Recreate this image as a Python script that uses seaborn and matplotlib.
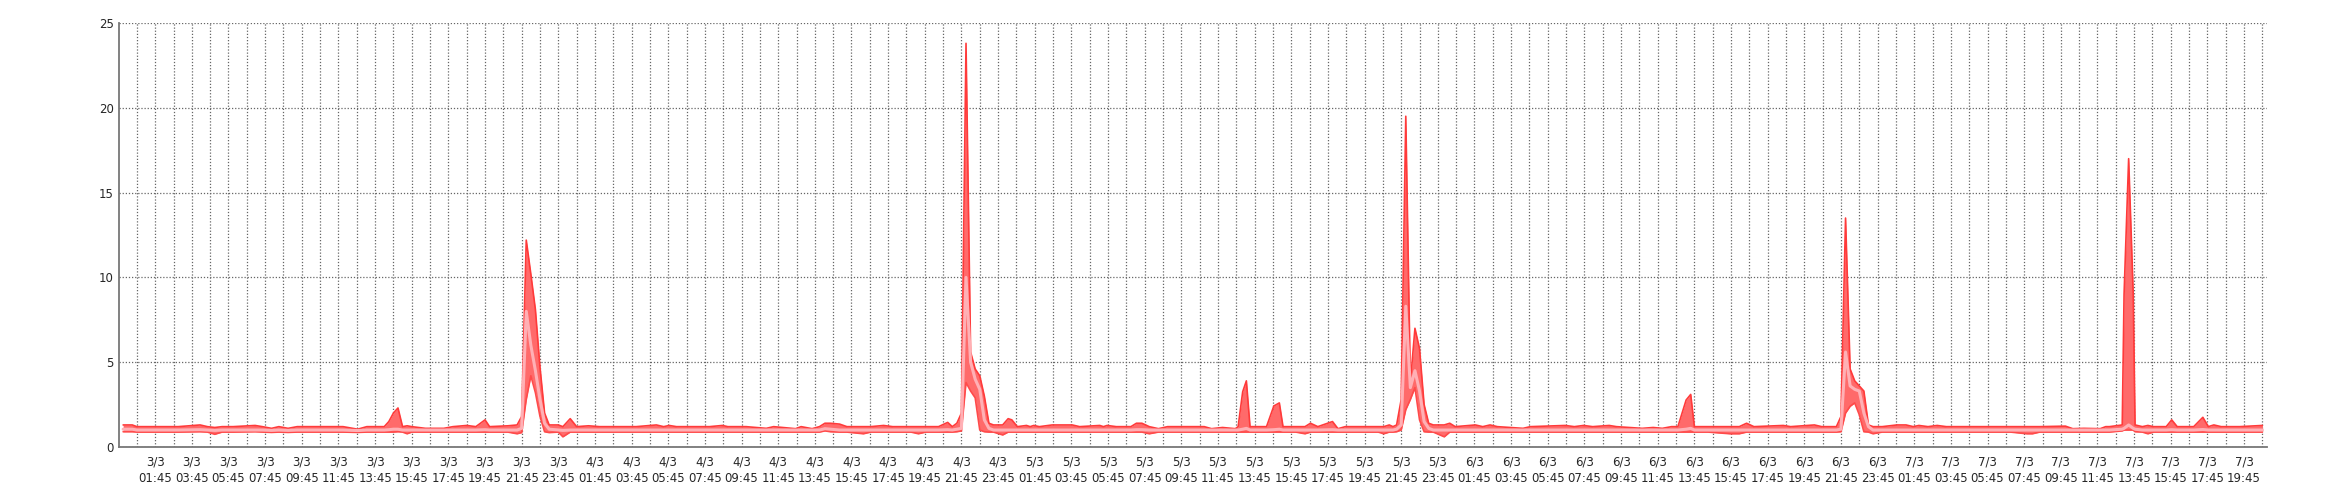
import numpy as np
import pandas as pd
import seaborn as sns
import matplotlib
matplotlib.use("Agg")
import matplotlib.pyplot as plt

# hours since 3/3 00:00, with max / avg / min readings
hours = [
    0.0, 0.5, 0.75, 2.0, 3.0, 4.2, 4.6, 5.0, 5.4, 6.0,
    7.2, 7.6, 8.1, 8.5, 9.0, 9.5, 11.0, 12.0, 12.8, 13.3,
    14.25, 14.5, 14.75, 15.0, 15.25, 15.5, 15.75, 16.5, 17.5, 18.0,
    18.75, 19.25, 19.75, 20.0, 21.0, 21.5, 21.75, 22.0, 22.25, 22.5,
    22.75, 23.0, 23.25, 23.75, 24.0, 24.4, 24.75, 25.4, 26.0, 27.0,
    28.0, 29.1, 29.5, 29.8, 30.2, 31.0, 32.0, 32.7, 33.0, 34.0,
    35.1, 35.5, 36.7, 37.0, 37.6, 38.0, 38.3, 38.6, 39.1, 39.5,
    40.4, 40.8, 41.5, 42.0, 43.0, 43.4, 43.8, 44.5, 45.0, 45.25,
    45.5, 45.75, 46.0, 46.25, 46.5, 46.75, 47.0, 47.25, 47.5, 48.0,
    48.3, 48.5, 48.8, 49.3, 49.5, 49.7, 50.0, 50.7, 51.4, 51.8,
    52.2, 53.3, 53.5, 53.7, 54.2, 55.0, 55.3, 55.6, 56.0, 56.5,
    57.0, 58.0, 59.0, 59.4, 60.0, 60.7, 60.85, 61.1, 61.3, 61.5,
    62.0, 62.4, 62.8, 63.1, 63.3, 64.0, 64.5, 64.8, 65.2, 66.0,
    66.3, 66.7, 67.5, 68.5, 68.8, 69.1, 69.3, 69.5, 69.75, 70.0,
    70.25, 70.5, 70.75, 71.0, 71.25, 71.5, 72.1, 72.4, 72.7, 73.8,
    74.2, 74.6, 75.0, 76.4, 76.8, 78.7, 79.2, 79.7, 80.2, 81.1,
    81.5, 82.9, 83.5, 84.0, 84.5, 84.85, 85.3, 85.55, 85.75, 86.5,
    87.7, 88.2, 88.6, 89.0, 90.6, 91.0, 92.3, 92.7, 93.5, 93.75,
    94.0, 94.25, 94.5, 94.75, 95.0, 95.25, 95.5, 96.0, 96.8, 97.3,
    97.7, 98.0, 98.5, 99.0, 99.5, 100.0, 101.0, 102.0, 103.0, 103.9,
    104.2, 104.6, 106.0, 106.4, 107.0, 107.9, 108.2, 108.4, 109.1, 109.2,
    109.45, 109.7, 109.8, 110.2, 110.5, 110.8, 111.5, 111.8, 112.1, 113.0,
    113.5, 113.8, 114.1, 114.5, 115.5, 116.75,
]

max_vals = [
    1.3, 1.3, 1.2, 1.2, 1.2, 1.3, 1.2, 1.15, 1.2, 1.2,
    1.27, 1.2, 1.1, 1.2, 1.1, 1.2, 1.2, 1.2, 1.05, 1.2,
    1.2, 1.5, 2.0, 2.3, 1.2, 1.25, 1.2, 1.1, 1.1, 1.2,
    1.27, 1.2, 1.6, 1.2, 1.25, 1.3, 1.8, 12.2, 10.2, 8.1,
    4.7, 2.0, 1.3, 1.3, 1.2, 1.67, 1.2, 1.25, 1.2, 1.2,
    1.2, 1.3, 1.2, 1.27, 1.2, 1.2, 1.2, 1.27, 1.2, 1.2,
    1.1, 1.2, 1.08, 1.2, 1.08, 1.2, 1.4, 1.4, 1.35, 1.2,
    1.2, 1.2, 1.27, 1.2, 1.2, 1.2, 1.2, 1.2, 1.45, 1.2,
    1.4, 2.0, 23.8, 5.6, 4.6, 4.2, 3.0, 1.4, 1.3, 1.3,
    1.67, 1.6, 1.2, 1.27, 1.2, 1.27, 1.2, 1.3, 1.3, 1.3,
    1.2, 1.27, 1.2, 1.27, 1.2, 1.2, 1.4, 1.4, 1.2, 1.08,
    1.2, 1.2, 1.2, 1.08, 1.15, 1.08, 1.2, 3.26, 3.9, 1.2,
    1.2, 1.2, 2.42, 2.6, 1.2, 1.2, 1.2, 1.4, 1.2, 1.5,
    1.08, 1.2, 1.2, 1.2, 1.2, 1.3, 1.2, 1.3, 2.8, 19.5,
    3.8, 7.0, 5.8, 2.5, 1.4, 1.3, 1.3, 1.4, 1.2, 1.3,
    1.2, 1.3, 1.2, 1.1, 1.2, 1.27, 1.2, 1.27, 1.2, 1.27,
    1.2, 1.1, 1.15, 1.1, 1.2, 1.2, 2.77, 3.1, 1.2, 1.2,
    1.2, 1.2, 1.4, 1.2, 1.27, 1.2, 1.3, 1.2, 1.2, 1.8,
    13.5, 4.6, 3.9, 3.6, 3.3, 1.3, 1.2, 1.2, 1.3, 1.3,
    1.2, 1.27, 1.2, 1.27, 1.2, 1.2, 1.2, 1.2, 1.2, 1.2,
    1.2, 1.2, 1.23, 1.08, 1.1, 1.08, 1.2, 1.2, 1.3, 9.0,
    17.0, 9.0, 1.3, 1.2, 1.27, 1.2, 1.2, 1.6, 1.2, 1.2,
    1.75, 1.2, 1.3, 1.2, 1.2, 1.27,
]

avg_vals = [
    1.05, 1.05, 1.0, 1.0, 1.0, 1.02, 1.0, 0.98, 1.0, 1.0,
    1.0, 1.0, 0.98, 1.0, 0.98, 1.0, 1.0, 1.0, 0.97, 1.0,
    1.0, 1.02, 1.05, 1.05, 1.0, 1.0, 1.0, 1.0, 1.0, 1.0,
    1.0, 1.0, 1.02, 1.0, 1.0, 1.0, 1.1, 8.0, 6.0, 4.5,
    2.8, 1.4, 1.05, 1.0, 0.98, 1.0, 1.0, 1.0, 1.0, 1.0,
    1.0, 1.0, 1.0, 1.0, 1.0, 1.0, 1.0, 1.0, 1.0, 1.0,
    1.0, 1.0, 1.0, 1.0, 1.0, 1.0, 1.08, 1.05, 1.0, 1.0,
    1.0, 1.0, 1.0, 1.0, 1.0, 1.0, 1.0, 1.0, 1.02, 1.0,
    1.05, 1.1, 10.0, 5.0, 4.0, 3.4, 1.6, 1.1, 1.0, 1.0,
    1.0, 1.0, 1.0, 1.0, 1.0, 1.0, 1.0, 1.0, 1.0, 1.0,
    1.0, 1.0, 1.0, 1.0, 1.0, 1.0, 1.02, 1.02, 1.0, 1.0,
    1.0, 1.0, 1.0, 1.0, 1.0, 1.0, 1.0, 1.05, 1.1, 1.0,
    1.0, 1.0, 1.02, 1.05, 1.0, 1.0, 1.0, 1.0, 1.0, 1.02,
    1.0, 1.0, 1.0, 1.0, 1.0, 1.0, 1.0, 1.05, 1.3, 8.3,
    3.5, 4.5, 3.3, 1.5, 1.1, 1.0, 1.0, 1.0, 1.0, 1.0,
    1.0, 1.0, 1.0, 1.0, 1.0, 1.0, 1.0, 1.0, 1.0, 1.0,
    1.0, 1.0, 1.0, 1.0, 1.0, 1.0, 1.05, 1.1, 1.0, 1.0,
    1.0, 1.0, 1.0, 1.0, 1.0, 1.0, 1.0, 1.0, 1.0, 1.05,
    5.6, 3.6, 3.4, 3.3, 2.0, 1.2, 1.0, 1.0, 1.0, 1.0,
    1.0, 1.0, 1.0, 1.0, 1.0, 1.0, 1.0, 1.0, 1.0, 1.0,
    1.0, 1.0, 1.0, 1.0, 1.0, 1.0, 1.0, 1.0, 1.05, 1.1,
    1.3, 1.1, 1.05, 1.0, 1.0, 1.0, 1.0, 1.02, 1.0, 1.0,
    1.03, 1.0, 1.0, 1.0, 1.0, 1.0,
]

min_vals = [
    0.9, 0.9, 0.88, 0.88, 0.88, 0.9, 0.88, 0.75, 0.88, 0.88,
    0.9, 0.88, 0.86, 0.88, 0.86, 0.88, 0.88, 0.88, 0.86, 0.88,
    0.88, 0.88, 0.88, 0.9, 0.88, 0.78, 0.88, 0.88, 0.88, 0.88,
    0.88, 0.88, 0.88, 0.88, 0.88, 0.78, 0.85, 2.8, 4.2, 3.2,
    1.8, 0.9, 0.85, 0.88, 0.6, 0.88, 0.88, 0.88, 0.88, 0.88,
    0.88, 0.88, 0.88, 0.88, 0.88, 0.88, 0.88, 0.88, 0.88, 0.88,
    0.88, 0.88, 0.88, 0.88, 0.88, 0.88, 0.95, 0.9, 0.88, 0.88,
    0.78, 0.88, 0.88, 0.88, 0.88, 0.78, 0.88, 0.88, 0.88, 0.88,
    0.9, 0.95, 3.8, 3.3, 2.9, 1.0, 0.9, 0.88, 0.88, 0.71,
    0.88, 0.88, 0.88, 0.88, 0.88, 0.88, 0.88, 0.88, 0.88, 0.88,
    0.88, 0.88, 0.88, 0.88, 0.88, 0.88, 0.88, 0.88, 0.78, 0.88,
    0.88, 0.88, 0.88, 0.88, 0.88, 0.88, 0.88, 0.88, 0.88, 0.88,
    0.88, 0.88, 0.88, 0.88, 0.88, 0.88, 0.78, 0.88, 0.88, 0.88,
    0.88, 0.88, 0.88, 0.88, 0.78, 0.88, 0.88, 0.9, 1.0, 2.2,
    2.8, 3.5, 1.6, 0.9, 0.88, 0.88, 0.6, 0.88, 0.88, 0.88,
    0.88, 0.88, 0.88, 0.88, 0.88, 0.88, 0.88, 0.88, 0.88, 0.88,
    0.88, 0.88, 0.88, 0.88, 0.88, 0.88, 0.88, 0.88, 0.88, 0.88,
    0.78, 0.78, 0.88, 0.88, 0.88, 0.88, 0.88, 0.88, 0.88, 0.9,
    2.0, 2.4, 2.6, 1.9, 0.9, 0.88, 0.78, 0.88, 0.88, 0.88,
    0.88, 0.88, 0.88, 0.88, 0.88, 0.88, 0.88, 0.88, 0.88, 0.78,
    0.78, 0.88, 0.88, 0.88, 0.88, 0.88, 0.88, 0.88, 0.95, 1.0,
    1.0, 1.0, 0.9, 0.88, 0.78, 0.88, 0.88, 0.88, 0.88, 0.88,
    0.88, 0.88, 0.88, 0.88, 0.88, 0.88,
]

days = ['3/3', '4/3', '5/3', '6/3', '7/3']
label_times = ['01:45', '03:45', '05:45', '07:45', '09:45', '11:45',
               '13:45', '15:45', '17:45', '19:45', '21:45', '23:45']
y_ticks = [0, 5, 10, 15, 20, 25]

assert len(hours) == len(max_vals) == len(avg_vals) == len(min_vals)

df = pd.DataFrame({'hour': hours, 'max': max_vals, 'avg': avg_vals, 'min': min_vals})

sns.set_style('white')
plt.rcParams['font.family'] = ['DejaVu Sans']

fig = plt.figure(figsize=(23.4, 5), dpi=100)
ax = fig.add_axes([0.0509, 0.106, 0.9179, 0.848])

ax.fill_between(df['hour'], df['min'], df['max'], color='#ff6a6a', lw=0, zorder=2)
sns.lineplot(data=df, x='hour', y='max', color='#ff3a3a', lw=1.2, ax=ax, zorder=3)
sns.lineplot(data=df, x='hour', y='min', color='#ff4a4a', lw=1.2, ax=ax, zorder=3)
sns.lineplot(data=df, x='hour', y='avg', color='#ffb0b5', lw=2.2, ax=ax, zorder=4)

# vertical grid every hour (at :45), labels every 2 hours
grid_hours = [0.75 + k for k in range(117)]
labels = []
for h in grid_hours:
    if int(round(h - 0.75)) % 2 == 1:
        d = int(h // 24)
        labels.append(days[d] + '\n' + label_times[int((h % 24) // 2)])
    else:
        labels.append('')
ax.set_xticks(grid_hours)
ax.set_xticklabels(labels, fontsize=8.5, linespacing=1.35)
ax.set_yticks(y_ticks)
ax.set_yticklabels([str(v) for v in y_ticks], fontsize=8.5)
ax.tick_params(length=0, pad=4)
ax.tick_params(axis='x', pad=6)

ax.set_xlim(-0.22, 117.0)
ax.set_ylim(0, 25)
ax.set_xlabel('')
ax.set_ylabel('')

ax.grid(True, color='#666666', linestyle=(0, (1, 1.5)), linewidth=0.9, zorder=1)
ax.set_axisbelow(True)
for s in ['top', 'right']:
    ax.spines[s].set_visible(False)
for s in ['left', 'bottom']:
    ax.spines[s].set_color('#777777')
    ax.spines[s].set_linewidth(1.3)

fig.savefig('out.png', dpi=100)
